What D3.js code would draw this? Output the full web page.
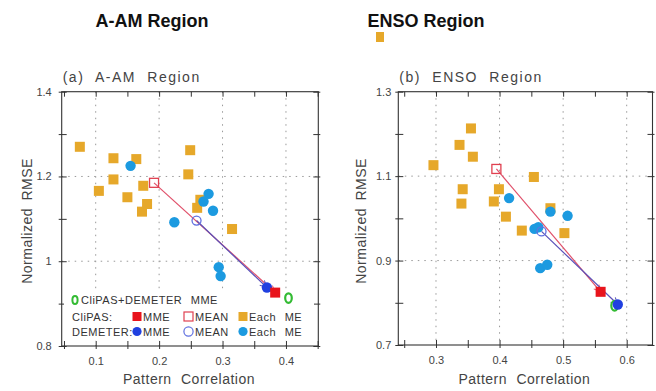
<!DOCTYPE html>
<html>
<head>
<meta charset="utf-8">
<script src="https://cdn.jsdelivr.net/npm/d3@7"></script>
<style>
    body { margin: 0; background: #fff; }
    svg { display: block; font-family: "Liberation Sans", Arial, sans-serif; }
    .tick text { font-size: 11px; fill: #444; }
    .tick line { stroke: #333; }
</style>
</head>
<body>
<div id="chart"></div>
<script>
// values are [pattern correlation, normalized RMSE]

// A-AM region
const AAM_CLIPAS_EACH = [
    [0.075, 1.270], [0.128, 1.243], [0.164, 1.241], [0.128, 1.193], [0.105, 1.166],
    [0.249, 1.262], [0.246, 1.205], [0.175, 1.178], [0.150, 1.151], [0.181, 1.135],
    [0.173, 1.117], [0.260, 1.126], [0.265, 1.145], [0.315, 1.076]
];
const AAM_DEMETER_EACH = [
    [0.155, 1.225], [0.224, 1.092], [0.278, 1.159], [0.270, 1.141], [0.285, 1.119],
    [0.294, 0.986], [0.297, 0.965]
];
const AAM_CLIPAS_MEAN = [0.192, 1.185];
const AAM_CLIPAS_MME = [0.383, 0.926];
const AAM_DEMETER_MEAN = [0.259, 1.096];
const AAM_DEMETER_MME = [0.370, 0.938];
const AAM_ALL_MME = [0.404, 0.913];

// ENSO region
const ENSO_CLIPAS_EACH = [
    [0.296, 1.126], [0.355, 1.213], [0.337, 1.174], [0.358, 1.146], [0.342, 1.069],
    [0.340, 1.035], [0.399, 1.069], [0.391, 1.040], [0.410, 1.004], [0.435, 0.971],
    [0.454, 1.098], [0.480, 1.024], [0.502, 0.965]
];
const ENSO_DEMETER_EACH = [
    [0.415, 1.048], [0.480, 1.016], [0.507, 1.006], [0.455, 0.975], [0.461, 0.979],
    [0.464, 0.882], [0.475, 0.890]
];
const ENSO_CLIPAS_MEAN = [0.395, 1.117];
const ENSO_CLIPAS_MME = [0.559, 0.826];
const ENSO_DEMETER_MEAN = [0.466, 0.969];
const ENSO_DEMETER_MME = [0.586, 0.796];
const ENSO_ALL_MME = [0.581, 0.793];

// tick labels
const AAM_X_LABELS = [0.1, 0.2, 0.3, 0.4];
const AAM_X_MINOR = [0.05, 0.15, 0.25, 0.35, 0.45];
const AAM_Y_LABELS = [0.8, 1, 1.2, 1.4];
const AAM_Y_MINOR = [0.9, 1.1, 1.3];
const ENSO_X_LABELS = [0.3, 0.4, 0.5, 0.6];
const ENSO_X_MINOR = [0.25, 0.35, 0.45, 0.55];
const ENSO_Y_LABELS = [0.7, 0.9, 1.1, 1.3];
const ENSO_Y_MINOR = [0.8, 1.0, 1.2];

const COLORS = {
    clipasEach: "#e6a82a",
    demeterEach: "#1c9ae0",
    clipasMme: "#e8141c",
    clipasMean: "#e04050",
    demeterMme: "#2040e0",
    demeterMean: "#6070e0",
    all: "#33bb33",
    redLine: "#e0506a",
    blueLine: "#5a50b8"
};

const svg = d3.select("#chart")
    .append("svg")
    .attr("width", 656)
    .attr("height", 391);

// arrow heads for MEAN -> MME lines
const defs = svg.append("defs");
[["arrowRed", COLORS.redLine], ["arrowBlue", COLORS.blueLine]].forEach(([id, c]) => {
    defs.append("marker")
        .attr("id", id)
        .attr("viewBox", "0 0 10 10")
        .attr("refX", 9).attr("refY", 5)
        .attr("markerWidth", 7).attr("markerHeight", 7)
        .attr("orient", "auto")
        .append("path")
        .attr("d", "M1,1 L9,5 L1,9")
        .attr("fill", "none")
        .attr("stroke", c)
        .attr("stroke-width", 1.2);
});

const fmt = v => String(+v.toFixed(2));

function drawPanel(p) {
    const x = d3.scaleLinear().domain(p.xDomain).range([p.left, p.right]);
    const y = d3.scaleLinear().domain(p.yDomain).range([p.bottom, p.top]);
    const g = svg.append("g");

    // big title above the panel
    svg.append("text")
        .attr("x", p.titleX).attr("y", 27)
        .attr("text-anchor", "middle")
        .attr("font-size", "18px")
        .attr("font-weight", "bold")
        .attr("fill", "#111")
        .text(p.title);

    // sub title
    g.append("text")
        .attr("x", p.left + 1).attr("y", 82)
        .attr("font-size", "14px")
        .attr("letter-spacing", "1.5px")
        .attr("word-spacing", "6px")
        .attr("fill", "#444")
        .text(p.subtitle);

    // dotted grid
    g.selectAll(".vgrid")
        .data(p.xLabels.filter(v => x(v) > p.left + 1 && x(v) < p.right - 1))
        .enter().append("line")
        .attr("x1", d => x(d)).attr("x2", d => x(d))
        .attr("y1", p.top).attr("y2", p.bottom)
        .attr("stroke", "#999").attr("stroke-dasharray", "1.5,5");
    g.selectAll(".hgrid")
        .data(p.yLabels.filter(v => y(v) > p.top + 1 && y(v) < p.bottom - 1))
        .enter().append("line")
        .attr("y1", d => y(d)).attr("y2", d => y(d))
        .attr("x1", p.left).attr("x2", p.right)
        .attr("stroke", "#999").attr("stroke-dasharray", "1.5,5");

    const xTicks = p.xLabels.concat(p.xMinor);
    const yTicks = p.yLabels.concat(p.yMinor);
    const xLab = v => p.xLabels.includes(v) ? fmt(v) : "";
    const yLab = v => p.yLabels.includes(v) ? fmt(v) : "";

    // bottom axis
    g.append("g")
        .attr("transform", `translate(0,${p.bottom})`)
        .call(d3.axisBottom(x).tickValues(xTicks).tickSize(3).tickPadding(8).tickFormat(xLab))
        .call(a => a.select(".domain").remove())
        .call(a => a.selectAll(".tick line").attr("y1", -5));
    // top axis
    g.append("g")
        .attr("transform", `translate(0,${p.top})`)
        .call(d3.axisTop(x).tickValues(xTicks).tickSize(-5).tickFormat(""))
        .call(a => a.select(".domain").remove());
    // left axis
    g.append("g")
        .attr("transform", `translate(${p.left},0)`)
        .call(d3.axisLeft(y).tickValues(yTicks).tickSize(3).tickPadding(p.yPad).tickFormat(yLab))
        .call(a => a.select(".domain").remove())
        .call(a => a.selectAll(".tick line").attr("x1", 5));
    // right axis
    g.append("g")
        .attr("transform", `translate(${p.right},0)`)
        .call(d3.axisRight(y).tickValues(yTicks).tickSize(2).tickFormat(""))
        .call(a => a.select(".domain").remove())
        .call(a => a.selectAll(".tick line").attr("x1", -5));

    // frame
    g.append("rect")
        .attr("x", p.left).attr("y", p.top)
        .attr("width", p.right - p.left).attr("height", p.bottom - p.top)
        .attr("fill", "none").attr("stroke", "#333").attr("stroke-width", 1.1);

    // axis titles
    g.append("text")
        .attr("transform", `translate(${p.yTitleX},221) rotate(-90)`)
        .attr("text-anchor", "middle")
        .attr("font-size", "14px")
        .attr("letter-spacing", "0.5px")
        .attr("word-spacing", "3px")
        .attr("fill", "#444")
        .text("Normalized RMSE");
    g.append("text")
        .attr("x", (p.left + p.right) / 2 - 1).attr("y", 384)
        .attr("text-anchor", "middle")
        .attr("font-size", "14px")
        .attr("letter-spacing", "0.5px")
        .attr("word-spacing", "5px")
        .attr("fill", "#444")
        .text("Pattern Correlation");

    if (p.legend) drawLegend(g);

    // MEAN -> MME lines
    g.append("line")
        .attr("x1", x(p.clipasMean[0])).attr("y1", y(p.clipasMean[1]))
        .attr("x2", x(p.clipasMme[0])).attr("y2", y(p.clipasMme[1]))
        .attr("stroke", COLORS.redLine).attr("stroke-width", 1.2)
        .attr("marker-end", "url(#arrowRed)");
    g.append("line")
        .attr("x1", x(p.demeterMean[0])).attr("y1", y(p.demeterMean[1]))
        .attr("x2", x(p.demeterMme[0])).attr("y2", y(p.demeterMme[1]))
        .attr("stroke", COLORS.blueLine).attr("stroke-width", 1.2)
        .attr("marker-end", "url(#arrowBlue)");

    // each ME
    g.selectAll(".clipas")
        .data(p.clipasEach)
        .enter().append("rect")
        .attr("x", d => x(d[0]) - 5).attr("y", d => y(d[1]) - 5)
        .attr("width", 10).attr("height", 10)
        .attr("fill", COLORS.clipasEach);
    g.selectAll(".demeter")
        .data(p.demeterEach)
        .enter().append("circle")
        .attr("cx", d => x(d[0])).attr("cy", d => y(d[1]))
        .attr("r", 5.2)
        .attr("fill", COLORS.demeterEach);

    // MEAN markers
    g.append("rect")
        .attr("x", x(p.clipasMean[0]) - 4.5).attr("y", y(p.clipasMean[1]) - 4.5)
        .attr("width", 9).attr("height", 9)
        .attr("fill", "none").attr("stroke", COLORS.clipasMean).attr("stroke-width", 1.3);
    g.append("circle")
        .attr("cx", x(p.demeterMean[0])).attr("cy", y(p.demeterMean[1]))
        .attr("r", 4.5)
        .attr("fill", "none").attr("stroke", COLORS.demeterMean).attr("stroke-width", 1.3);

    // MME markers
    g.append("ellipse")
        .attr("cx", x(p.allMme[0])).attr("cy", y(p.allMme[1]))
        .attr("rx", 3.3).attr("ry", 4.8)
        .attr("fill", "#fff").attr("stroke", COLORS.all).attr("stroke-width", 2.2);
    g.append("circle")
        .attr("cx", x(p.demeterMme[0])).attr("cy", y(p.demeterMme[1]))
        .attr("r", 5.2)
        .attr("fill", COLORS.demeterMme);
    g.append("rect")
        .attr("x", x(p.clipasMme[0]) - 5).attr("y", y(p.clipasMme[1]) - 5)
        .attr("width", 10).attr("height", 10)
        .attr("fill", COLORS.clipasMme);
}

function drawLegend(g) {
    const lg = g.append("g")
        .attr("font-size", "11px")
        .attr("letter-spacing", "0.5px")
        .attr("word-spacing", "5px")
        .attr("fill", "#333");
    lg.append("rect")
        .attr("x", 64).attr("y", 292).attr("width", 250).attr("height", 48)
        .attr("fill", "#fff");

    const text = (tx, ty, s) => lg.append("text").attr("x", tx).attr("y", ty).text(s);
    const sq = (cx, cy, fill, stroke) => lg.append("rect")
        .attr("x", cx - 4.5).attr("y", cy - 4.5).attr("width", 9).attr("height", 9)
        .attr("fill", fill).attr("stroke", stroke || "none").attr("stroke-width", 1.2);
    const dot = (cx, cy, fill, stroke) => lg.append("circle")
        .attr("cx", cx).attr("cy", cy).attr("r", 4.6)
        .attr("fill", fill).attr("stroke", stroke || "none").attr("stroke-width", 1.2);

    // row 1
    lg.append("ellipse")
        .attr("cx", 75).attr("cy", 300).attr("rx", 2.6).attr("ry", 4)
        .attr("fill", "#fff").attr("stroke", COLORS.all).attr("stroke-width", 2);
    text(81, 304, "CliPAS+DEMETER MME");
    // row 2
    text(72, 320.5, "CliPAS:");
    sq(137, 316.5, COLORS.clipasMme);
    text(143, 320.5, "MME");
    sq(188.5, 316.5, "#fff", COLORS.clipasMean);
    text(195, 320.5, "MEAN");
    sq(243, 316.5, COLORS.clipasEach);
    text(249, 320.5, "Each ME");
    // row 3
    text(72, 335.5, "DEMETER:");
    dot(137, 331.5, COLORS.demeterMme);
    text(143, 335.5, "MME");
    dot(188.5, 331.5, "#fff", COLORS.demeterMean);
    text(195, 335.5, "MEAN");
    dot(243, 331.5, COLORS.demeterEach);
    text(249, 335.5, "Each ME");
}

drawPanel({
    title: "A-AM Region", titleX: 152,
    subtitle: "(a) A-AM Region",
    left: 61.7, right: 318.3, top: 91.7, bottom: 346,
    xDomain: [0.0464, 0.451], yDomain: [0.8, 1.4],
    xLabels: AAM_X_LABELS, xMinor: AAM_X_MINOR,
    yLabels: AAM_Y_LABELS, yMinor: AAM_Y_MINOR,
    yPad: 7, yTitleX: 32,
    clipasEach: AAM_CLIPAS_EACH, demeterEach: AAM_DEMETER_EACH,
    clipasMean: AAM_CLIPAS_MEAN, clipasMme: AAM_CLIPAS_MME,
    demeterMean: AAM_DEMETER_MEAN, demeterMme: AAM_DEMETER_MME,
    allMme: AAM_ALL_MME,
    legend: true
});

drawPanel({
    title: "ENSO Region", titleX: 426,
    subtitle: "(b) ENSO Region",
    left: 398.3, right: 652.5, top: 91.7, bottom: 345,
    xDomain: [0.2407, 0.6406], yDomain: [0.7, 1.3],
    xLabels: ENSO_X_LABELS, xMinor: ENSO_X_MINOR,
    yLabels: ENSO_Y_LABELS, yMinor: ENSO_Y_MINOR,
    yPad: 4, yTitleX: 366,
    clipasEach: ENSO_CLIPAS_EACH, demeterEach: ENSO_DEMETER_EACH,
    clipasMean: ENSO_CLIPAS_MEAN, clipasMme: ENSO_CLIPAS_MME,
    demeterMean: ENSO_DEMETER_MEAN, demeterMme: ENSO_DEMETER_MME,
    allMme: ENSO_ALL_MME,
    legend: false
});

// small stray orange mark under the ENSO title
svg.append("rect")
    .attr("x", 376).attr("y", 32).attr("width", 8).attr("height", 10)
    .attr("fill", COLORS.clipasEach);
</script>
</body>
</html>
